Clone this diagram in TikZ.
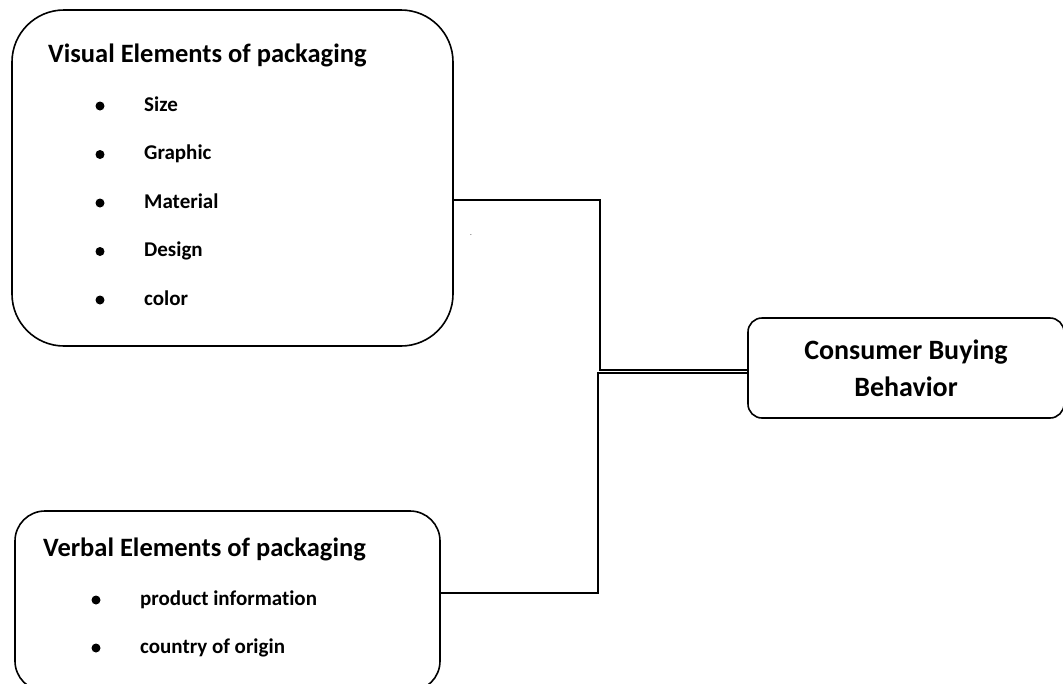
\documentclass[tikz,border=0pt]{standalone}
\usepackage{fontspec}
\setmainfont{Carlito}[RawFeature={-liga;-clig;-dlig}]
\usepackage{tikz}
\usetikzlibrary{calc,positioning}

\begin{document}
\begin{tikzpicture}[x=1pt, y=-1pt,
    groupbox/.style={draw, line width=1.6pt, inner sep=0pt},
    heading/.style={anchor=base west, inner sep=0pt, font=\bfseries\fontsize{26.5}{30}\selectfont},
    item/.style={anchor=base west, inner sep=0pt, font=\bfseries\fontsize{21}{25}\selectfont},
    dot/.style={fill=black, circle, inner sep=0pt, minimum size=9pt},
    link/.style={line width=1.6pt}]
    \useasboundingbox (0,0) rectangle (1063,683);
    \clip (0,0) rectangle (1063,683);

    % Draw the three boxes
    \node[groupbox, rounded corners=52pt, minimum width=441pt, minimum height=336pt] (visual) at (232.5,178) {};
    \node[groupbox, rounded corners=30pt, minimum width=425pt, minimum height=180pt] (verbal) at (227.5,601) {};
    \node[groupbox, rounded corners=14pt, minimum width=316pt, minimum height=100pt, align=center,
          font=\bfseries\fontsize{28}{37}\selectfont] (consumer) at (906,368) {Consumer Buying\\Behavior};

    % Visual elements and their list
    \node[heading] (visualtitle) at (48,62) {Visual Elements of packaging};
    \foreach \txt [count=\i] in {Size,Graphic,Material,Design,color} {
        \node[dot] (vdot\i) at (100,{106+48.5*(\i-1)}) {};
        \node[item] (vitem\i) at (144,{111+48.5*(\i-1)}) {\txt};
    }
    \node[font=\scriptsize, inner sep=0pt] (speck) at (471,235) {.};

    % Verbal elements and their list
    \node[heading] (verbaltitle) at (43,556) {Verbal Elements of packaging};
    \foreach \txt [count=\i] in {product information,country of origin} {
        \node[dot] (bdot\i) at (96,{600+48*(\i-1)}) {};
        \node[item] (bitem\i) at (140,{605+48*(\i-1)}) {\txt};
    }

    % Draw the two connectors into the right box
    \draw[link] ([yshift=-22pt]visual.east) -- ++(146,0) |- ([yshift=-2pt]consumer.west);
    \draw[link] ([yshift=8pt]verbal.east) -- ++(157,0) |- ([yshift=-5pt]consumer.west);
\end{tikzpicture}
\end{document}
